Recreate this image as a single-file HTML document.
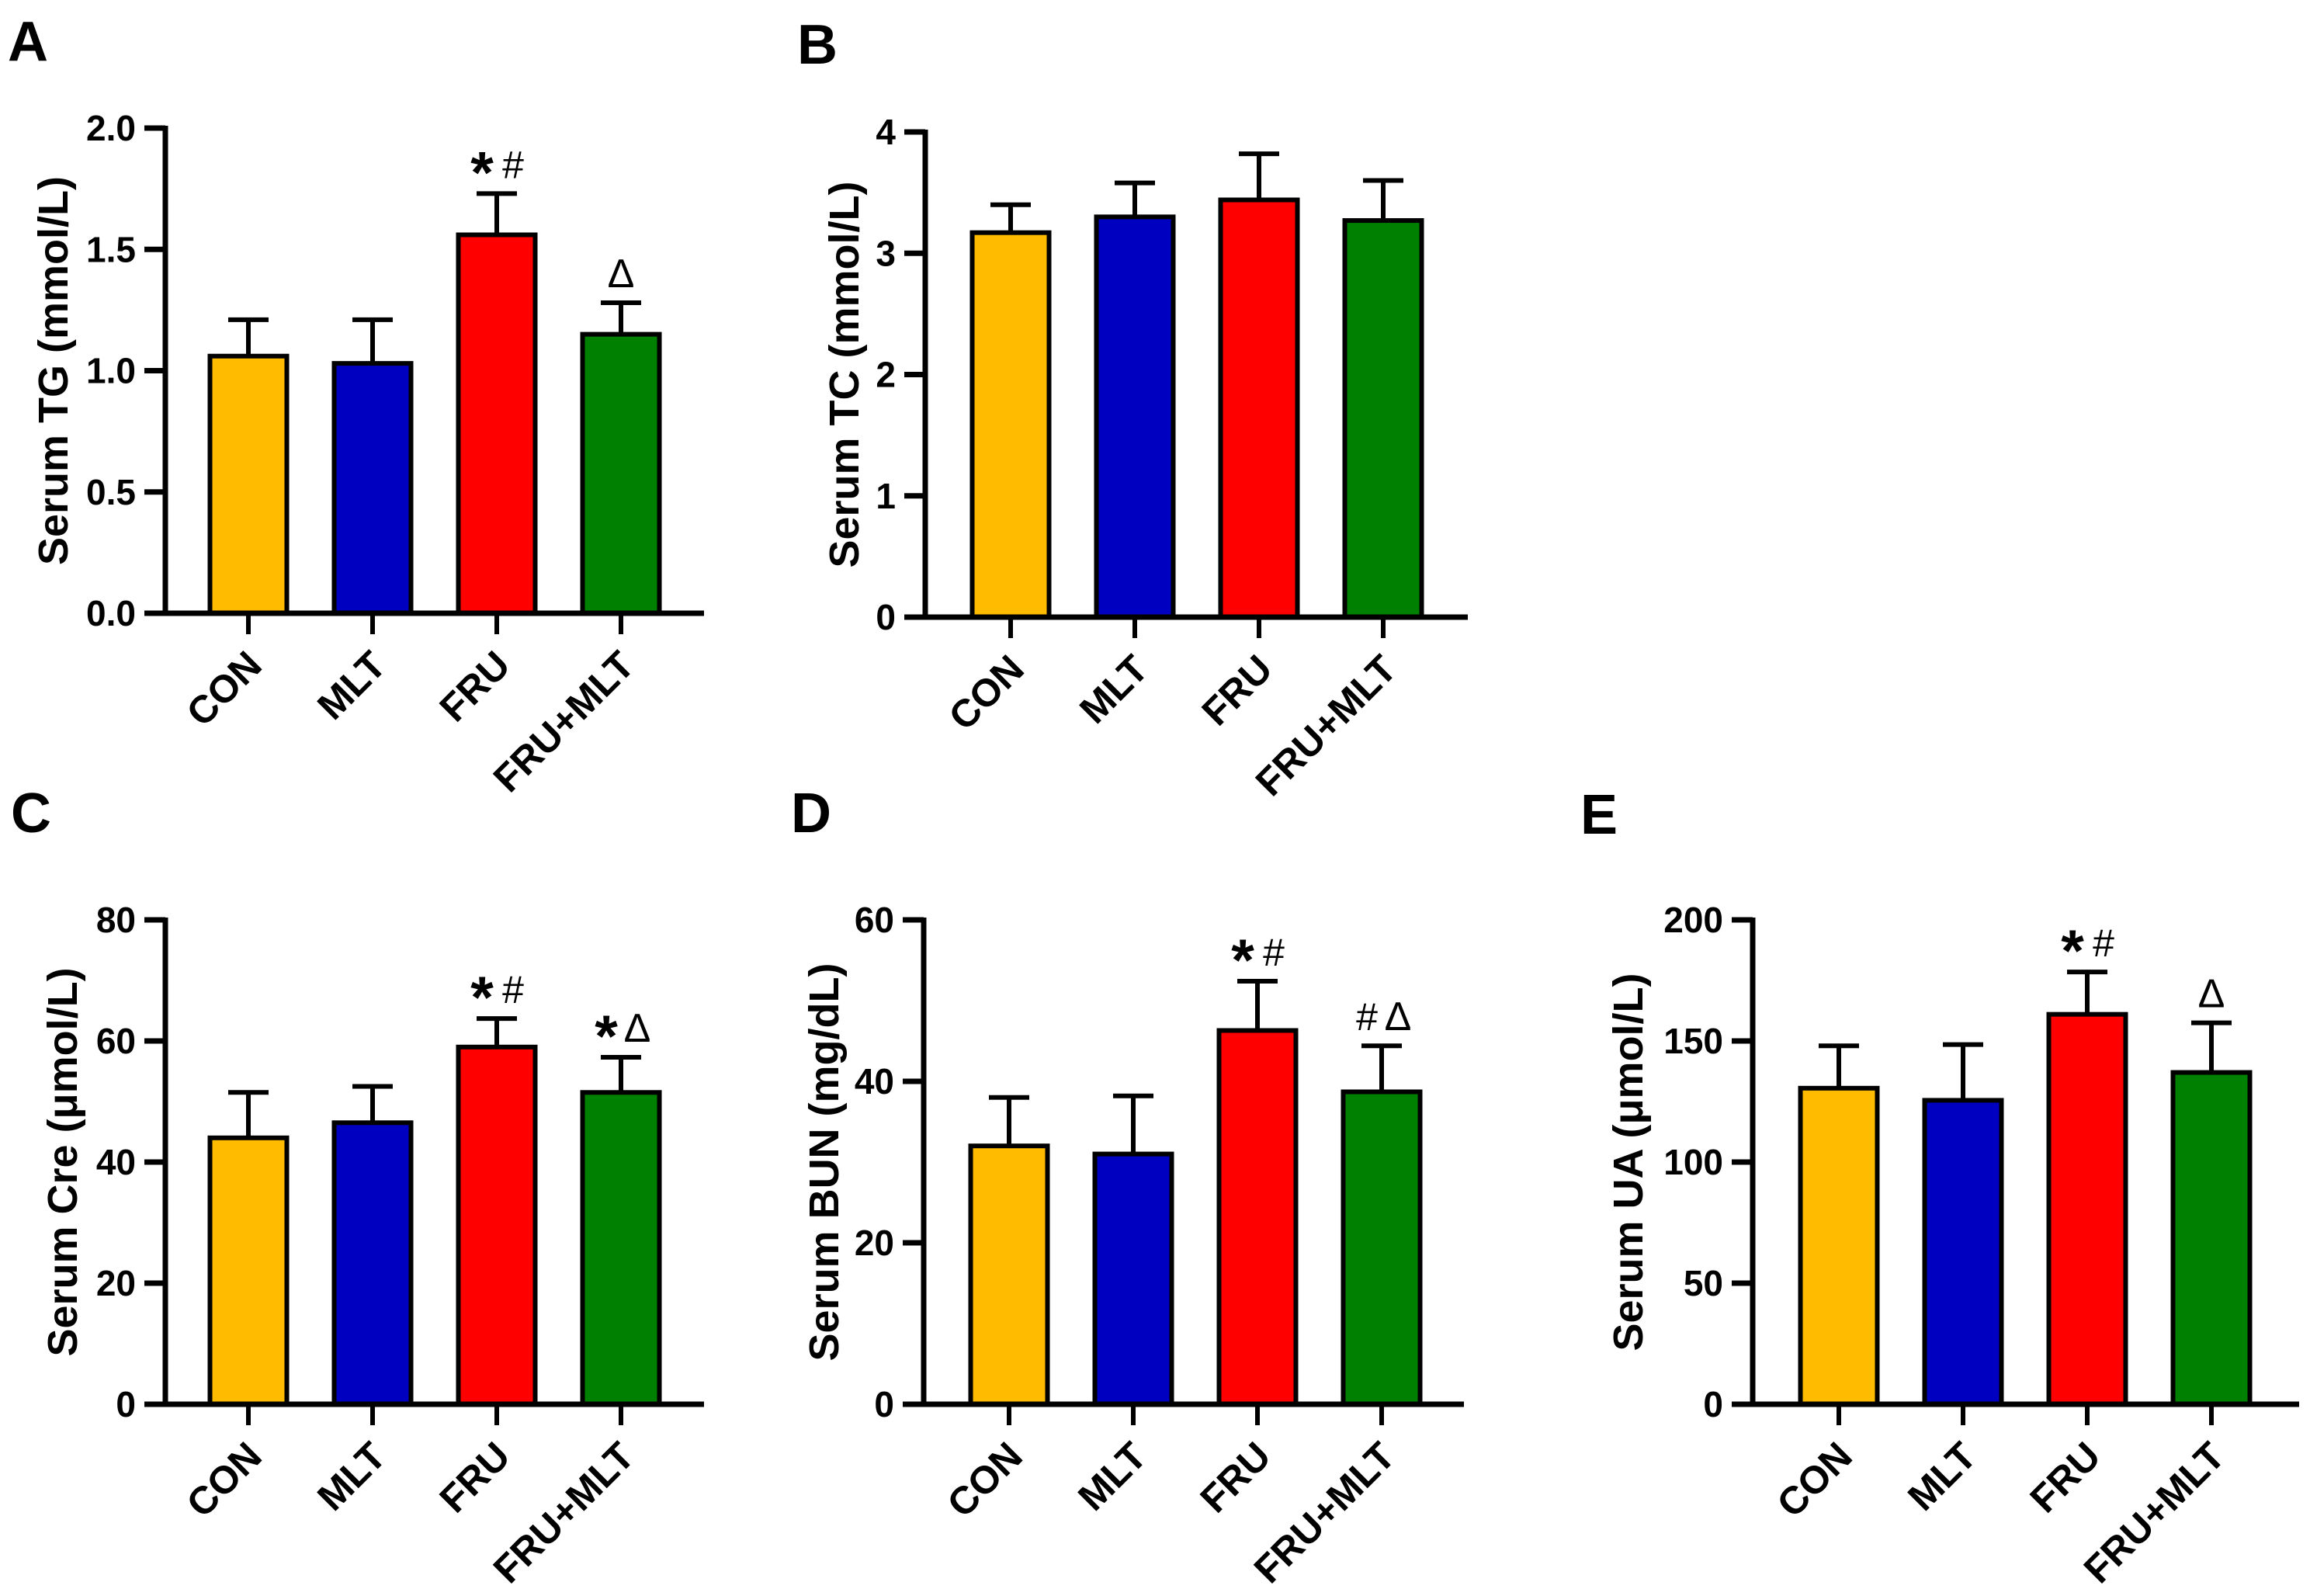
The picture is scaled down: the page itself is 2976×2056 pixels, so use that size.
<!DOCTYPE html>
<html><head><meta charset="utf-8">
<style>
html,body{margin:0;padding:0;background:#fff;}
svg{display:block;font-family:"Liberation Sans",Arial,sans-serif;}
</style></head>
<body>
<svg id="fig" width="2976" height="2056" viewBox="0 0 2976 2056" xmlns="http://www.w3.org/2000/svg"></svg>
<script>
const categories = ["CON","MLT","FRU","FRU+MLT"];
const barColors = ["#FFBB00","#0000C0","#FF0000","#008000"];

const tgMeans = [1.06, 1.03, 1.56, 1.15];
const tgErr   = [1.21, 1.21, 1.73, 1.28];
const tgTicks = ["0.0","0.5","1.0","1.5","2.0"];
const tgMarks = ["", "", "*#", "Δ"];

const tcMeans = [3.17, 3.30, 3.44, 3.27];
const tcErr   = [3.40, 3.58, 3.82, 3.60];
const tcTicks = ["0","1","2","3","4"];
const tcMarks = ["", "", "", ""];

const creMeans = [44.0, 46.5, 59.0, 51.5];
const creErr   = [51.5, 52.5, 63.7, 57.3];
const creTicks = ["0","20","40","60","80"];
const creMarks = ["", "", "*#", "*Δ"];

const bunMeans = [32.0, 31.0, 46.3, 38.7];
const bunErr   = [38.0, 38.2, 52.4, 44.4];
const bunTicks = ["0","20","40","60"];
const bunMarks = ["", "", "*#", "#Δ"];

const uaMeans = [130.5, 125.5, 161.0, 137.0];
const uaErr   = [148.0, 148.5, 178.5, 157.5];
const uaTicks = ["0","50","100","150","200"];
const uaMarks = ["", "", "*#", "Δ"];

const NS = "http://www.w3.org/2000/svg";
const svg = document.getElementById("fig");
function mk(tag, attrs, parent){
  const e = document.createElementNS(NS, tag);
  for (const k in attrs) e.setAttribute(k, attrs[k]);
  (parent||svg).appendChild(e);
  return e;
}

const panels = [
  {id:"a", letter:"A", lx:10, ly:78, axisX:213, top:165, base:790, right:907, first:320, title:"Serum TG (mmol/L)", tbx:87,
   means:tgMeans, errs:tgErr, ticks:tgTicks, marks:tgMarks, max:2.0},
  {id:"b", letter:"B", lx:1027, ly:82, axisX:1192, top:170, base:795, right:1891, first:1302, title:"Serum TC (mmol/L)", tbx:1106,
   means:tcMeans, errs:tcErr, ticks:tcTicks, marks:tcMarks, max:4},
  {id:"c", letter:"C", lx:14, ly:1072, axisX:213, top:1185, base:1809, right:907, first:320, title:"Serum Cre (μmol/L)", tbx:99,
   means:creMeans, errs:creErr, ticks:creTicks, marks:creMarks, max:80},
  {id:"d", letter:"D", lx:1019, ly:1072, axisX:1190, top:1185, base:1809, right:1886, first:1300, title:"Serum BUN (mg/dL)", tbx:1080,
   means:bunMeans, errs:bunErr, ticks:bunTicks, marks:bunMarks, max:60},
  {id:"e", letter:"E", lx:2036, ly:1074, axisX:2258, top:1185, base:1809, right:2962, first:2369, title:"Serum UA (μmol/L)", tbx:2116,
   means:uaMeans, errs:uaErr, ticks:uaTicks, marks:uaMarks, max:200}
];

panels.forEach(p => {
  const g = mk("g", {});
  
  
  const yScale = v => p.base - v / p.max * (p.base - p.top);
  const xScale = i => p.first + i * 160;

  const lt = mk("text", {x:p.lx, y:p.ly, "font-size":72, "font-weight":"bold", fill:"#000"}, g);
  
  
  lt.textContent = p.letter;

  p.means.forEach((m, i) => {
    const cx = xScale(i), yTop = yScale(m), yErr = yScale(p.errs[i]);
    const el = mk("line", {x1:cx, y1:yTop, x2:cx, y2:yErr, stroke:"#000", "stroke-width":6}, g);
    
    
    const cap = mk("line", {x1:cx-26, y1:yErr, x2:cx+26, y2:yErr, stroke:"#000", "stroke-width":6}, g);
    
    
    const r = mk("rect", {x:cx-49.5, y:yTop, width:99, height:p.base - yTop, fill:barColors[i], stroke:"#000", "stroke-width":6}, g);
    
    

    const mark = p.marks[i];
    if (mark) {
      const baseY = yErr - 20;
      const syms = Array.from(mark);
      const offs = syms.length === 1 ? [0] : [-19, 21];
      syms.forEach((s, k) => {
        let t;
        if (s === "*") {
          t = mk("text", {x:cx + offs[k], y:yErr - 39 + 38, "font-size":76, "font-weight":"bold", "text-anchor":"middle", fill:"#000"}, g);
        } else {
          t = mk("text", {x:cx + offs[k], y:baseY, "font-size":s === "Δ" ? 52 : 50, "text-anchor":"middle", fill:"#000"}, g);
        }
        
        
        t.textContent = s;
      });
    }
  });

  const ya = mk("line", {x1:p.axisX, y1:p.top - 3, x2:p.axisX, y2:p.base, stroke:"#000", "stroke-width":7}, g);
  
  
  const n = p.ticks.length - 1;
  p.ticks.forEach((lab, k) => {
    const v = p.max * k / n;
    const y = yScale(v);
    const tk = mk("line", {x1:p.axisX - 27, y1:y, x2:p.axisX, y2:y, stroke:"#000", "stroke-width":7}, g);
    
    
    const tl = mk("text", {x:p.axisX - 38, y:y + 16, "font-size":46, "font-weight":"bold", "text-anchor":"end", fill:"#000"}, g);
    
    
    tl.textContent = lab;
  });

  const xa = mk("line", {x1:p.axisX - 27, y1:p.base, x2:p.right, y2:p.base, stroke:"#000", "stroke-width":7}, g);
  
  
  categories.forEach((c, i) => {
    const cx = xScale(i);
    const tk = mk("line", {x1:cx, y1:p.base, x2:cx, y2:p.base + 27, stroke:"#000", "stroke-width":6}, g);
    
    
    const ax = cx + 20, ay = p.base + 70;
    const tl = mk("text", {x:ax, y:ay, "font-size":50, "font-weight":"bold", "text-anchor":"end", fill:"#000", transform:`rotate(-45 ${ax} ${ay})`}, g);
    
    
    tl.textContent = c;
  });

  const ty = (p.top + p.base) / 2;
  const tt = mk("text", {x:p.tbx, y:ty, "font-size":54, "font-weight":"bold", "text-anchor":"middle", fill:"#000", transform:`rotate(-90 ${p.tbx} ${ty})`}, g);
  
  
  tt.textContent = p.title;
});
</script>
</body></html>
